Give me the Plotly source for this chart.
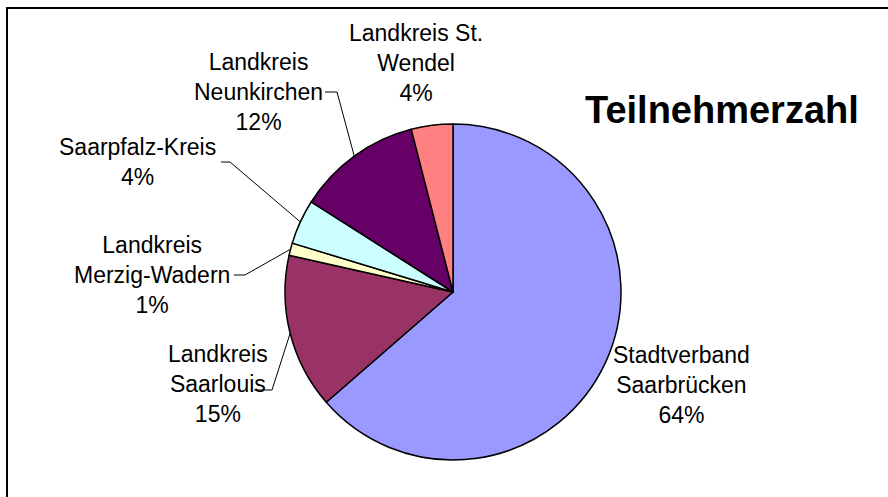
import math
import plotly.graph_objects as go

# ---- data ----
regions = ["Stadtverband Saarbrücken", "Landkreis Saarlouis", "Landkreis Merzig-Wadern",
           "Saarpfalz-Kreis", "Landkreis Neunkirchen", "Landkreis St. Wendel"]
label_text = ["Stadtverband<br>Saarbrücken", "Landkreis<br>Saarlouis", "Landkreis<br>Merzig-Wadern",
              "Saarpfalz-Kreis", "Landkreis<br>Neunkirchen", "Landkreis St.<br>Wendel"]
values = [63.6, 14.9, 1.2, 4.3, 12.0, 4.0]
colors = ["#9999FF", "#993366", "#FFFFCC", "#CCFFFF", "#660066", "#FF8080"]
title_text = "Teilnehmerzahl"

W, H = 888, 497
CX, CY, R = 453, 292, 168

def px(x):
    return x / W

def py(y):
    return 1 - y / H

fig = go.Figure(go.Pie(
    labels=regions, values=values, sort=False, direction="clockwise", rotation=0,
    marker=dict(colors=colors, line=dict(color="black", width=1.5)),
    textinfo="none", hoverinfo="label+percent", showlegend=False,
    domain=dict(x=[px(CX - R), px(CX + R)], y=[py(CY + R), py(CY - R)]),
))

total = sum(values)
cum = 0
mid_pts = []
for v in values:
    a = (cum + v / 2) / total * 2 * math.pi
    mid_pts.append((CX + R * math.sin(a), CY - R * math.cos(a)))
    cum += v

# label placement (center x, center y of block)
label_pos = [(681, 385), (218, 384), (152, 275), (137, 162), (258, 92), (416, 63)]
font = dict(family="Liberation Sans, Arial, sans-serif", size=23, color="black")
pct = [f"{round(v / total * 100)}%" for v in values]
for i, (lx, ly) in enumerate(label_pos):
    fig.add_annotation(x=px(lx), y=py(ly), xref="paper", yref="paper",
                       text=label_text[i] + "<br>" + pct[i], showarrow=False,
                       font=font, align="center", xanchor="center", yanchor="middle")

# leader lines: (start x, y, bend x) -> slice midpoint on edge
leaders = {1: (254, 390, 272), 2: (234, 275, 245), 3: (221, 162, 230), 4: (325, 92, 337)}
for i, (sx, sy, bx) in leaders.items():
    ex, ey = mid_pts[i]
    path = f"M {px(sx)} {py(sy)} L {px(bx)} {py(sy)} L {px(ex)} {py(ey)}"
    fig.add_shape(type="path", path=path, xref="paper", yref="paper",
                  line=dict(color="black", width=1))

fig.add_annotation(x=px(722), y=py(110), xref="paper", yref="paper", text="<b>" + title_text + "</b>",
                   showarrow=False, font=dict(family="Liberation Sans, Arial, sans-serif", size=38, color="black"),
                   xanchor="center", yanchor="middle")

# chart border
fig.add_shape(type="rect", xref="paper", yref="paper", x0=px(7), y0=-0.05, x1=1.05, y1=py(8),
              line=dict(color="black", width=2))

fig.update_layout(width=W, height=H, margin=dict(l=0, r=0, t=0, b=0),
                  paper_bgcolor="white", plot_bgcolor="white")
fig.write_html("out.html", config={"displayModeBar": False},
               post_script="document.body.style.margin='0';document.body.style.overflow='hidden';")
